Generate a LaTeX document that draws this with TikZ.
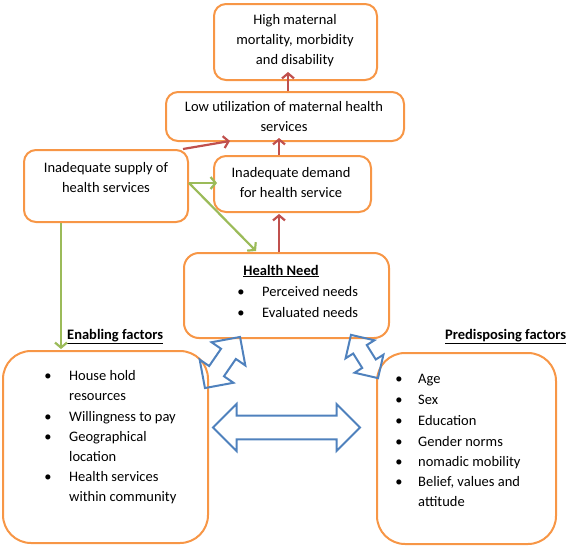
\documentclass[tikz,border=0pt]{standalone}
\usepackage{fontspec}
\setmainfont{Carlito}
\usetikzlibrary{shapes.arrows,arrows.meta}
\definecolor{boxor}{HTML}{F79646}
\definecolor{arrred}{HTML}{C0504D}
\definecolor{arrgrn}{HTML}{9BBB59}
\definecolor{arrblue}{HTML}{4F81BD}
\begin{document}
\begin{tikzpicture}[x=1pt,y=-1pt,
  box/.style={draw=boxor, line width=2pt, rounded corners=12pt, inner sep=0pt, anchor=north west},
  txt/.style={inner sep=0pt, align=center, font=\fontsize{14.5}{20}\selectfont},
  lt/.style={inner sep=0pt, anchor=base west, font=\fontsize{14.5}{20}\selectfont},
  bul/.style={inner sep=0pt, anchor=base, font=\fontsize{14.5}{20}\selectfont},
  redarr/.style={draw=arrred, line width=2.2pt, -{Straight Barb[length=5pt,width=12pt]}},
  grnarr/.style={draw=arrgrn, line width=2.2pt, -{Straight Barb[length=5pt,width=12pt]}},
  dbl/.style={double arrow, draw=arrblue, line width=2pt, inner xsep=0pt, double arrow head indent=0pt}
]
\useasboundingbox (0,0) rectangle (567,546);

% boxes
\node[box, minimum width=163pt, minimum height=76pt] (top) at (213,3) {};
\node[box, minimum width=238pt, minimum height=49pt] (low) at (165,91) {};
\node[box, minimum width=164pt, minimum height=72pt] (supply) at (23,149) {};
\node[box, minimum width=157pt, minimum height=56pt] (demand) at (213,155) {};
\node[box, rounded corners=15pt, minimum width=205pt, minimum height=85pt] (health) at (183,252) {};
\node[box, rounded corners=28pt, minimum width=205pt, minimum height=192pt] (left) at (2,350) {};
\node[box, rounded corners=28pt, minimum width=179pt, minimum height=191pt] (right) at (376,352) {};

% box texts
\node[txt] (toptxt) at (295,40.5) {High maternal\\mortality, morbidity\\and disability};
\node[txt] (lowtxt) at (284,117) {Low utilization of maternal health\\services};
\node[txt] (supplytxt) at (106,177.5) {Inadequate supply of\\health services};
\node[txt] (demandtxt) at (291,183) {Inadequate demand\\for health service};

% health need
\node[bul] (hnhead) at (281,275) {\underline{\textbf{Health Need}}};
\node[bul] (hb1) at (241,296) {\textbullet};
\node[lt] (ht1) at (262,296) {Perceived needs};
\node[bul] (hb2) at (241,317) {\textbullet};
\node[lt] (ht2) at (262,317) {Evaluated needs};

% factor labels
\node[lt] (enab) at (67,339) {\underline{\textbf{Enabling factors}}};
\node[lt] (pred) at (445,339) {\underline{\textbf{Predisposing factors}}};

% enabling list
\node[bul] (lb1) at (48,380) {\textbullet};
\node[lt] (lt1) at (69,380) {House hold};
\node[lt] (lt2) at (69,400) {resources};
\node[bul] (lb3) at (48,421) {\textbullet};
\node[lt] (lt3) at (69,421) {Willingness to pay};
\node[bul] (lb4) at (48,441) {\textbullet};
\node[lt] (lt4) at (69,441) {Geographical};
\node[lt] (lt5) at (69,461) {location};
\node[bul] (lb6) at (48,481) {\textbullet};
\node[lt] (lt6) at (69,481) {Health services};
\node[lt] (lt7) at (69,501) {within community};

% predisposing list
\node[bul] (rb1) at (399,383) {\textbullet};
\node[lt] (rt1) at (418,383) {Age};
\node[bul] (rb2) at (399,404) {\textbullet};
\node[lt] (rt2) at (418,404) {Sex};
\node[bul] (rb3) at (399,425) {\textbullet};
\node[lt] (rt3) at (418,425) {Education};
\node[bul] (rb4) at (399,446) {\textbullet};
\node[lt] (rt4) at (418,446) {Gender norms};
\node[bul] (rb5) at (399,466) {\textbullet};
\node[lt] (rt5) at (418,466) {nomadic mobility};
\node[bul] (rb6) at (399,486) {\textbullet};
\node[lt] (rt6) at (418,486) {Belief, values and};
\node[lt] (rt7) at (418,506) {attitude};

% red arrows
\draw[redarr] (low.north -| 288,0) -- ([yshift=9pt]top.south -| 288,0);
\draw[redarr] (demand.north -| 279,0) -- ([yshift=4pt]low.south -| 279,0);
\draw[redarr] (supply.north -| 183,0) -- ([yshift=1pt]low.south -| 230,0);
\draw[redarr] (health.north -| 279,0) -- ([yshift=-1pt]demand.south -| 279,0);

% green arrows
\draw[grnarr] (supply.east |- 0,183) -- ([xshift=4pt]demand.west |- 0,183);
\draw[grnarr] (supply.east |- 0,183) -- ([yshift=1pt]health.north -| 256,0);
\draw[grnarr] (supply.south -| 61,0) -- ([yshift=1pt]left.north -| 61,0);

% blue double arrows
\node[dbl, minimum height=147pt, minimum width=45pt, inner ysep=10.8pt, double arrow head extend=11.7pt] (hz) at (286.5,427.5) {};
\node[dbl, rotate=55.5, minimum height=62pt, minimum width=39pt, inner ysep=8pt, double arrow head extend=11.5pt] (dl) at (222.5,362.5) {};
\node[dbl, rotate=-58, minimum height=51pt, minimum width=32pt, inner ysep=7pt, double arrow head extend=9pt] (dr) at (364.5,356.5) {};
\end{tikzpicture}
\end{document}
